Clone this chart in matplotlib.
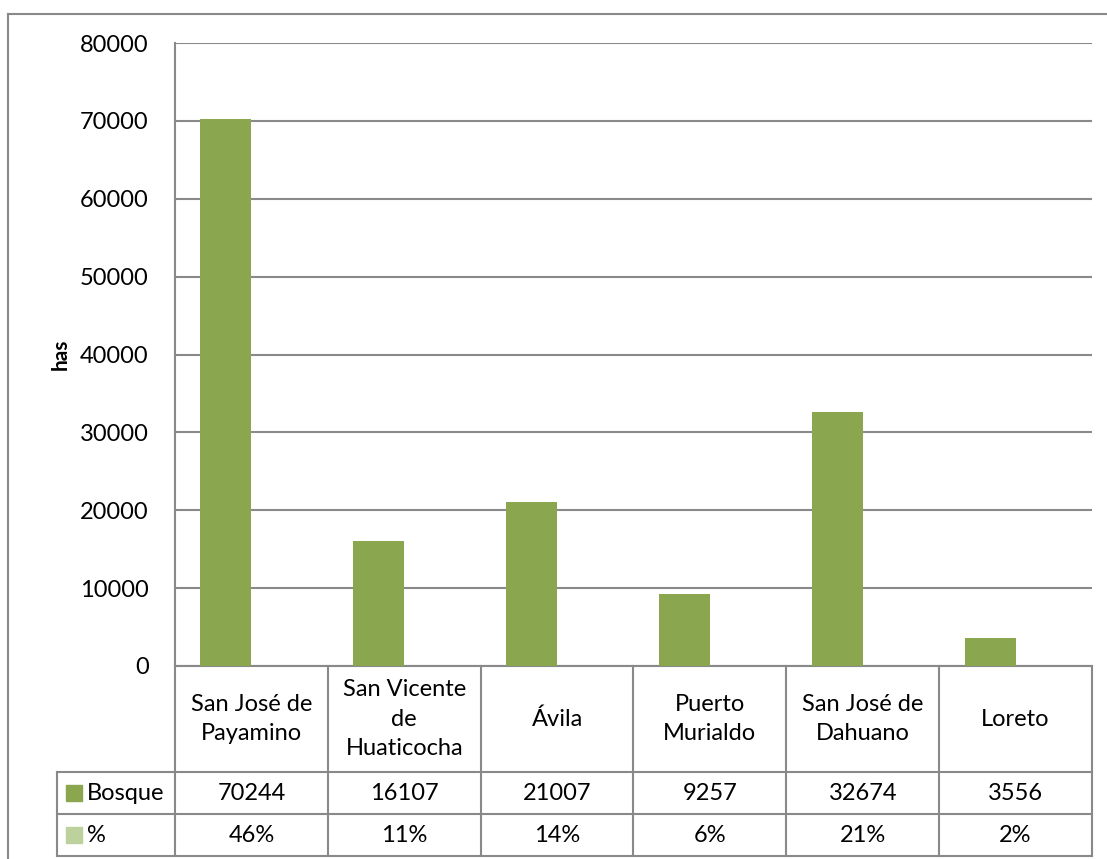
import numpy as np
import matplotlib.pyplot as plt
from matplotlib.lines import Line2D
from matplotlib.patches import Rectangle

categories = ["San José de\nPayamino", "San Vicente\nde\nHuaticocha", "Ávila",
              "Puerto\nMurialdo", "San José de\nDahuano", "Loreto"]
bosque = [70244, 16107, 21007, 9257, 32674, 3556]
porcentaje = [46, 11, 14, 6, 21, 2]
series_names = ["Bosque", "%"]

BAR_COLOR = "#8aa64f"
PCT_COLOR = "#bcd19b"
LINE_COLOR = "#898989"
W, H = 1107, 859
FS = 17

plt.rcParams["font.family"] = ["Lato", "DejaVu Sans"]

fig = plt.figure(figsize=(W / 100, H / 100), dpi=100)


def fx(px):
    return px / W


def fy(py):
    return 1 - py / H


# plot area in pixels
left, right, top, bottom = 175, 1092, 43, 666
ax = fig.add_axes([fx(left), fy(bottom), fx(right - left), fy(top) - fy(bottom)])

x = np.arange(len(categories))
bw = 1 / 3
ax.bar(x - bw / 2, bosque, width=bw, color=BAR_COLOR, zorder=3)
# percentages are plotted on the same scale, so they are practically invisible
ax.bar(x + bw / 2, [p / 100 for p in porcentaje], width=bw, color=PCT_COLOR, zorder=3)

ax.set_xlim(-0.5, len(categories) - 0.5)
ax.set_ylim(0, 80000)
ax.set_yticks(np.arange(0, 80001, 10000))
ax.tick_params(axis="y", labelsize=FS, length=0, pad=19)
ax.set_xticks([])
ax.yaxis.grid(True, color=LINE_COLOR, linewidth=1.5, zorder=0)
for s in ["top", "right", "bottom"]:
    ax.spines[s].set_visible(False)
ax.spines["left"].set_color(LINE_COLOR)
ax.spines["left"].set_linewidth(1.5)
ax.set_ylabel("has", fontsize=15, fontweight="bold")
ax.yaxis.set_label_coords((71 - left) / (right - left), 0.5)

# data table below the plot
axh = bottom - top
y_cat = -(772 - bottom) / axh
y_bos = -(814 - bottom) / axh
y_pct = -(856 - bottom) / axh
x_lab = (57 - left) / (right - left)

tr = ax.get_xaxis_transform()
kw = dict(color=LINE_COLOR, linewidth=1.5, clip_on=False)

# vertical lines between columns
for b in np.arange(len(categories) + 1) - 0.5:
    ax.add_line(Line2D([b, b], [0, y_pct], transform=tr, **kw))
# horizontal lines
ax.add_line(Line2D([-0.5, len(categories) - 0.5], [0, 0], transform=tr, **kw))
for yy in [y_cat, y_bos, y_pct]:
    ax.add_line(Line2D([x_lab, 1], [yy, yy], transform=ax.transAxes, **kw))
ax.add_line(Line2D([x_lab, x_lab], [y_cat, y_pct], transform=ax.transAxes, **kw))

for i, c in enumerate(categories):
    ax.text(i, y_cat / 2, c, transform=tr, ha="center", va="center",
            fontsize=FS, linespacing=1.5)
    ax.text(i, (y_cat + y_bos) / 2, str(bosque[i]), transform=tr,
            ha="center", va="center", fontsize=FS)
    ax.text(i, (y_bos + y_pct) / 2, f"{porcentaje[i]}%", transform=tr,
            ha="center", va="center", fontsize=FS)

# row headers with legend keys
for name, col, y0, y1 in [(series_names[0], BAR_COLOR, y_cat, y_bos),
                          (series_names[1], PCT_COLOR, y_bos, y_pct)]:
    yc = (y0 + y1) / 2
    key_w = 16 / (right - left)
    key_h = 16 / axh
    ax.add_patch(Rectangle((x_lab + 9 / (right - left), yc - key_h / 2), key_w, key_h,
                           transform=ax.transAxes, color=col, clip_on=False))
    ax.text(x_lab + 30 / (right - left), yc, name, transform=ax.transAxes,
            ha="left", va="center", fontsize=FS)

# outer chart border (right and bottom edges are cut off in the original)
fig.add_artist(Line2D([fx(8), fx(8)], [fy(14), 0], color=LINE_COLOR, linewidth=1.5))
fig.add_artist(Line2D([fx(8), 1], [fy(14), fy(14)], color=LINE_COLOR, linewidth=1.5))

fig.savefig("out.png", dpi=100)
